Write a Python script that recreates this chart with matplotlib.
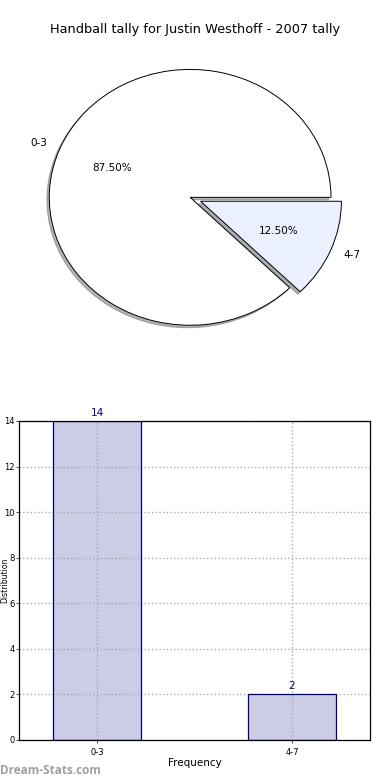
import matplotlib
matplotlib.use("Agg")
import matplotlib.pyplot as plt

title = "Handball tally for Justin Westhoff - 2007 tally"
categories = ["0-3", "4-7"]
counts = [14, 2]
explode = [0, 0.08]
pie_colors = ["#ffffff", "#ebf0fe"]

fig = plt.figure(figsize=(3.9, 7.8), dpi=100)

# Pie
axp = fig.add_axes([0.036, 0.542, 0.903, 0.41])
wedges, texts, autotexts = axp.pie(counts, labels=categories, explode=explode,
                                   colors=pie_colors, autopct="%1.2f%%",
                                   shadow=dict(ox=-0.012, oy=-0.014, shade=0.6),
                                   wedgeprops=dict(edgecolor="black", linewidth=0.7),
                                   textprops=dict(fontsize=7.5))
axp.set_aspect("auto")
axp.set_xlim(-1.25, 1.25)
axp.set_ylim(-1.25, 1.25)
fig.text(0.5, 0.962, title, ha="center", va="center", fontsize=9.3)

# Bar
axb = fig.add_axes([0.0487, 0.0513, 0.9, 0.409])
x = list(range(len(categories)))
axb.bar(x, counts, width=0.45, color="#ccccE6", edgecolor="none", zorder=2)
axb.bar(x, counts, width=0.45, facecolor="none", edgecolor="#000080", linewidth=0.9, zorder=4)
axb.set_xlim(-0.4, 1.4)
axb.set_ylim(0, 14)
axb.set_yticks(range(0, 15, 2))
axb.set_xticks(x)
axb.set_xticklabels(categories)
axb.tick_params(labelsize=6, length=2, width=0.5)
axb.tick_params(axis="y", pad=1)
axb.grid(True, linestyle=":", color="#aaaaaa", linewidth=1.0, zorder=3)
axb.set_axisbelow(False)
for xi, c in zip(x, counts):
    axb.text(xi, c + 0.15, str(c), ha="center", va="bottom", color="#000080", fontsize=7.5)
axb.set_xlabel("Frequency", fontsize=7.5, labelpad=1)
for s in axb.spines.values():
    s.set_linewidth(0.9)
    s.set_zorder(5)

fig.text(0.0, 0.256, "Distribution", rotation=90, ha="left", va="center", fontsize=5.5)
fig.text(0.0, 0.012, "Dream-Stats.com", color="#a0a0a0", fontsize=8.5, fontweight="bold",
         ha="left", va="center", family="Open Sans")

fig.savefig("out.png", dpi=100)
